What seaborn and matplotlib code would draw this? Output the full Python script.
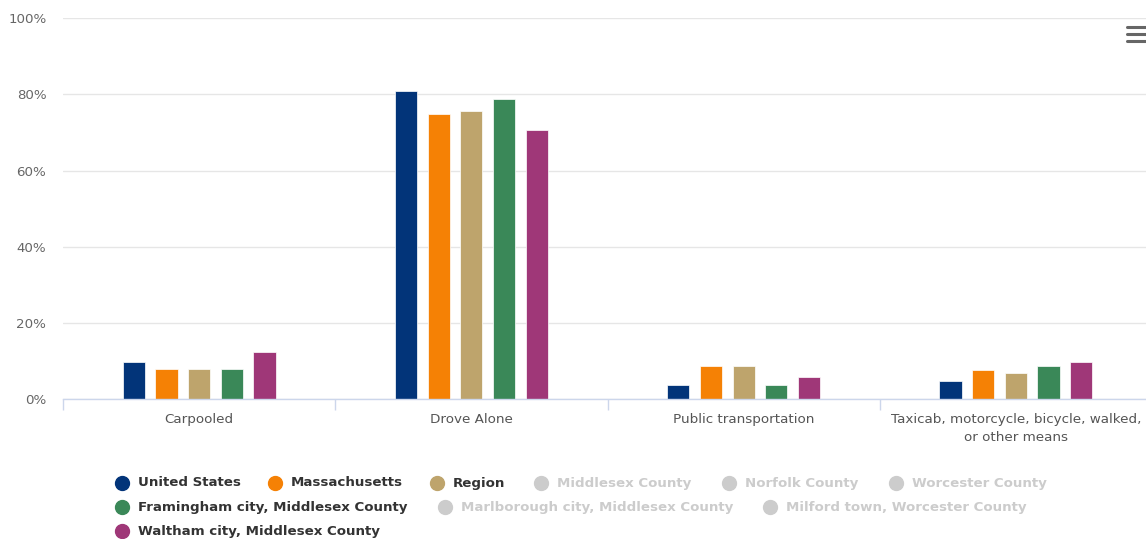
import matplotlib
matplotlib.use("Agg")
import matplotlib.pyplot as plt
from matplotlib.lines import Line2D
import seaborn as sns
import pandas as pd

# Commute mode shares (% of workers)
categories = [
    "Carpooled",
    "Drove Alone",
    "Public transportation",
    "Taxicab, motorcycle, bicycle, walked,\nor other means",
]
united_states = [9.9, 80.8, 3.8, 4.8]
massachusetts = [7.9, 74.8, 8.8, 7.8]
region = [7.9, 75.7, 8.8, 6.8]
framingham = [7.9, 78.8, 3.8, 8.8]
waltham = [12.5, 70.7, 5.9, 9.9]

shown_series = [
    "United States",
    "Massachusetts",
    "Region",
    "Framingham city, Middlesex County",
    "Waltham city, Middlesex County",
]
shown_colors = ["#023479", "#f58105", "#bea46c", "#3a8858", "#9f3778"]

# Legend entries in display order; series switched off appear greyed out
legend_names = [
    "United States", "Massachusetts", "Region", "Middlesex County",
    "Norfolk County", "Worcester County",
    "Framingham city, Middlesex County", "Marlborough city, Middlesex County",
    "Milford town, Worcester County",
    "Waltham city, Middlesex County",
]
y_ticks = [0, 20, 40, 60, 80, 100]

W, H = 1146, 539
sns.set_theme(style="white")
plt.rcParams["font.family"] = ["DejaVu Sans"]

rows = []
for name, vals in zip(shown_series, [united_states, massachusetts, region, framingham, waltham]):
    for cat, v in zip(categories, vals):
        rows.append({"category": cat, "series": name, "value": v})
df = pd.DataFrame(rows)

fig = plt.figure(figsize=(W / 100, H / 100), dpi=100)
ax = fig.add_axes([63 / W, 139.7 / H, 1089 / W, 381 / H])

sns.barplot(
    data=df, x="category", y="value", hue="series",
    order=categories, hue_order=shown_series, palette=shown_colors,
    saturation=1, width=0.6, gap=0.32, errorbar=None, legend=False,
    edgecolor="white", linewidth=0.5, ax=ax,
)

ax.set_xlim(-0.5, 3.5)
ax.set_ylim(0, 100)
ax.set_xlabel("")
ax.set_ylabel("")

ax.set_yticks(y_ticks)
ax.set_yticklabels([f"{v}%" for v in y_ticks])
ax.yaxis.grid(True, color="#e6e6e6", linewidth=1)
ax.set_axisbelow(True)
ax.tick_params(axis="y", length=0, pad=12, labelcolor="#666666", labelsize=9.6)

ax.set_xticks(range(len(categories)))
ax.set_xticklabels(categories, linespacing=1.45)
ax.set_xticks([i - 0.5 for i in range(len(categories) + 1)], minor=True)
ax.tick_params(axis="x", which="major", length=0, pad=10, labelcolor="#555555", labelsize=9.7)
ax.tick_params(axis="x", which="minor", length=8, width=1, color="#ccd6eb", direction="out", bottom=True)

for side in ["left", "top", "right"]:
    ax.spines[side].set_visible(False)
ax.spines["bottom"].set_color("#ccd6eb")
ax.spines["bottom"].set_linewidth(1)

# Legend laid out in three flowing rows
legend_slots = [
    (122, 483), (275, 483), (437, 483), (541, 483), (729, 483), (896, 483),
    (122, 507), (445, 507), (770, 507),
    (122, 531),
]
color_of = dict(zip(shown_series, shown_colors))
for name, (px, py) in zip(legend_names, legend_slots):
    on = name in color_of
    mcolor = color_of[name] if on else "#cccccc"
    tcolor = "#333333" if on else "#cccccc"
    fig.add_artist(Line2D([px / W], [1 - py / H], marker="o", markersize=10,
                          color=mcolor, linestyle="none", transform=fig.transFigure))
    fig.text((px + 16) / W, 1 - py / H, name, color=tcolor, fontsize=9.6,
             fontweight="bold", va="center", ha="left")

# Context-menu icon
for py in (27, 34, 41):
    fig.add_artist(Line2D([1127 / W, 1146 / W], [1 - py / H, 1 - py / H],
                          color="#666666", linewidth=2.2, solid_capstyle="round",
                          transform=fig.transFigure))

fig.savefig("out.png", dpi=100)
